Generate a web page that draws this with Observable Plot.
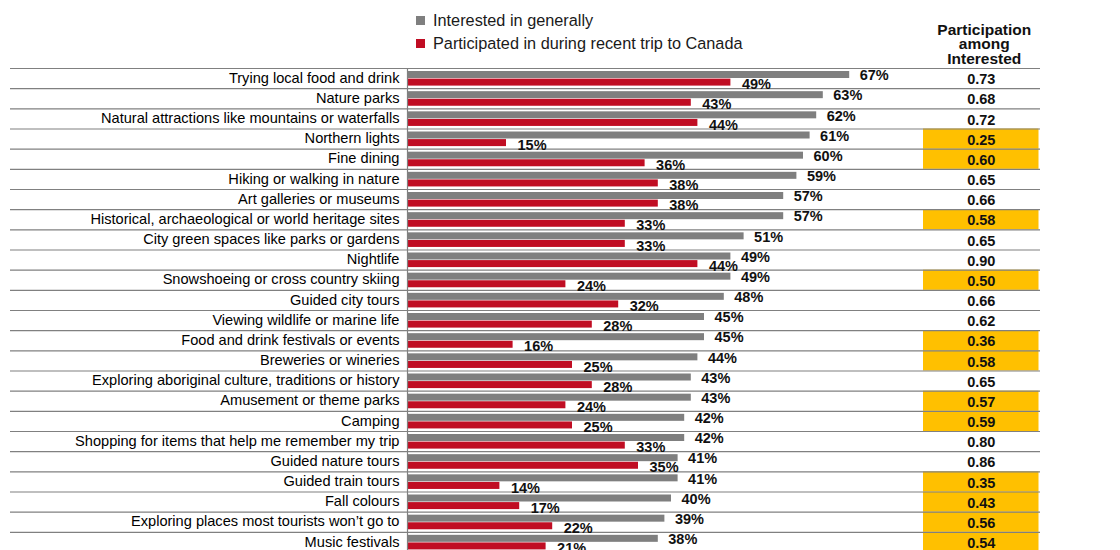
<!DOCTYPE html>
<html><head><meta charset="utf-8">
<script src="https://cdn.jsdelivr.net/npm/d3@7"></script>
<script src="https://cdn.jsdelivr.net/npm/@observablehq/plot@0.6"></script>
<style>
html,body{margin:0;padding:0;background:#fff;overflow:hidden;width:1120px;height:550px;}
body{font-family:"Liberation Sans",Arial,sans-serif;}
#wrap{position:relative;width:1120px;height:552px;display:flex;align-items:flex-start;}
#legend{position:absolute;left:416px;top:9px;font-size:16.3px;color:#1a1a1a;z-index:2;}
.item{display:flex;align-items:center;height:23px;}
.sw{width:9px;height:9px;margin-right:8px;}
svg{display:block;flex:none;}
</style></head><body>
<div id="wrap"><div id="legend"></div></div>
<script>
const categories = [
  "Trying local food and drink",
  "Nature parks",
  "Natural attractions like mountains or waterfalls",
  "Northern lights",
  "Fine dining",
  "Hiking or walking in nature",
  "Art galleries or museums",
  "Historical, archaeological or world heritage sites",
  "City green spaces like parks or gardens",
  "Nightlife",
  "Snowshoeing or cross country skiing",
  "Guided city tours",
  "Viewing wildlife or marine life",
  "Food and drink festivals or events",
  "Breweries or wineries",
  "Exploring aboriginal culture, traditions or history",
  "Amusement or theme parks",
  "Camping",
  "Shopping for items that help me remember my trip",
  "Guided nature tours",
  "Guided train tours",
  "Fall colours",
  "Exploring places most tourists won\u2019t go to",
  "Music festivals"
];
const interested   = [67,63,62,61,60,59,57,57,51,49,49,48,45,45,44,43,43,42,42,41,41,40,39,38];
const participated = [49,43,44,15,36,38,38,33,33,44,24,32,28,16,25,28,24,25,33,35,14,17,22,21];
const ratio        = [0.73,0.68,0.72,0.25,0.60,0.65,0.66,0.58,0.65,0.90,0.50,0.66,0.62,0.36,0.58,0.65,0.57,0.59,0.80,0.86,0.35,0.43,0.56,0.54];
const highlighted  = [false,false,false,true,true,false,false,true,false,false,true,false,false,true,true,false,true,true,false,false,true,true,true,true];
const seriesNames  = ["Interested in generally", "Participated in during recent trip to Canada"];
const seriesColors = ["#7f7f7f", "#c00d23"];
const columnTitle  = "Participation\namong\nInterested";

const rows = categories.map((c, i) => ({
  category: c, interested: interested[i], participated: participated[i],
  ratio: ratio[i], highlight: highlighted[i]
}));

const H = 552, MT = 68;
const step = (H - MT) / categories.length;
const font = '"Liberation Sans", Arial, sans-serif';

// legend
const legend = document.getElementById("legend");
seriesNames.forEach((n, i) => {
  const it = document.createElement("div");
  it.className = "item";
  it.innerHTML = `<span class="sw" style="background:${seriesColors[i]}"></span><span>${n}</span>`;
  legend.appendChild(it);
});

const plotA = Plot.plot({
  width: 905, height: H,
  marginTop: MT, marginBottom: 0, marginLeft: 10, marginRight: 0,
  x: {domain: [0, 75], range: [407, 902], axis: null},
  y: {domain: categories, padding: 0, round: false, axis: null},
  style: {fontFamily: font, fontSize: "14px", color: "#000", background: "transparent"},
  marks: [
    Plot.barX(rows, {y: "category", x: "interested", fill: seriesColors[0], insetTop: 3, insetBottom: step - 10}),
    Plot.barX(rows, {y: "category", x: "participated", fill: seriesColors[1], insetTop: 10.6, insetBottom: step - 17.6}),
    Plot.ruleY(rows, {y: "category", dy: -step / 2, stroke: "#808080", strokeWidth: 1.2}),
    Plot.ruleX([0], {stroke: "#808080", strokeWidth: 1.2}),
    Plot.text(rows, {y: "category", x: 0, text: "category", textAnchor: "end", dx: -8, dy: -0.5, fill: "#000", fontSize: 14.6}),
    Plot.text(rows, {y: "category", x: "interested", text: d => d.interested + "%", textAnchor: "start", dx: 10, dy: -3, fontWeight: "bold", fontSize: 14.5, fill: "#111"}),
    Plot.text(rows, {y: "category", x: "participated", text: d => d.participated + "%", textAnchor: "start", dx: 11, dy: 6, fontWeight: "bold", fontSize: 14.5, fill: "#111"})
  ]
});

const col = "Participation among Interested";
const plotB = Plot.plot({
  width: 215, height: H,
  marginTop: MT, marginBottom: 0, marginLeft: 0, marginRight: 80,
  x: {type: "band", domain: [col], range: [18, 133.5], padding: 0, round: false, axis: null},
  y: {domain: categories, padding: 0, round: false, axis: null},
  style: {fontFamily: font, fontSize: "14px", color: "#000", background: "transparent"},
  marks: [
    Plot.cell(rows.filter(d => d.highlight), {x: () => col, y: "category", fill: "#ffc000"}),
    Plot.ruleY(rows, {y: "category", dy: -step / 2, stroke: "#808080", strokeWidth: 1.2}),
    Plot.text(rows, {x: () => col, y: "category", text: d => d.ratio.toFixed(2), fontWeight: "bold", fontSize: 14.5, dy: 1, fill: "#111"}),
    Plot.text([col], {x: d => d, frameAnchor: "top", text: [columnTitle], lineAnchor: "bottom", lineHeight: 0.93, dy: -5, dx: 3, fontWeight: "bold", fontSize: 15.5, fill: "#111"})
  ]
});

const wrap = document.getElementById("wrap");
wrap.appendChild(plotA);
wrap.appendChild(plotB);
</script>
</body></html>
